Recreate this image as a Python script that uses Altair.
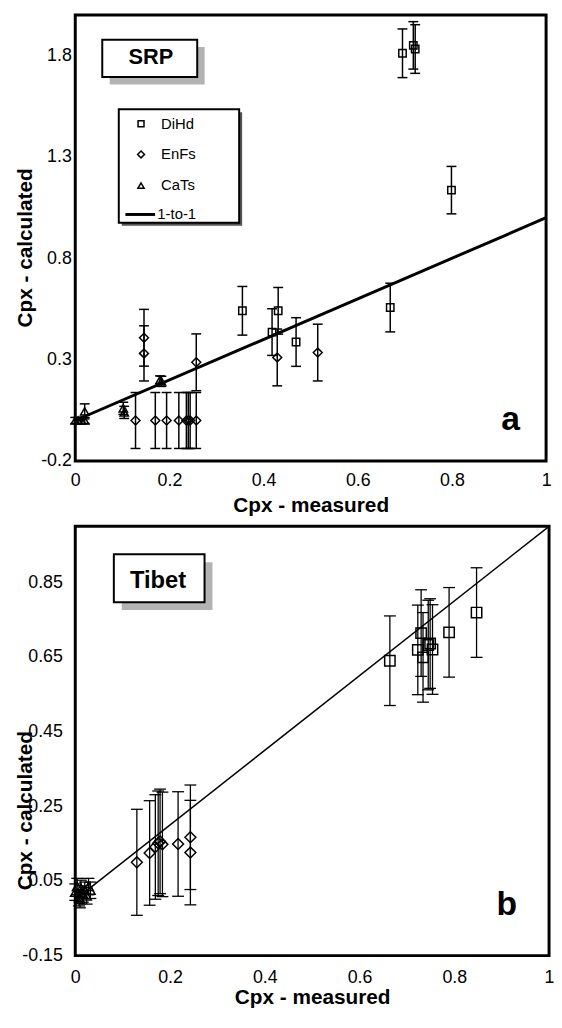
import altair as alt
import pandas as pd

FONT = "Liberation Sans"

# ---------------- data: panel a (SRP) ----------------
a_dihd_x = [0.695, 0.718, 0.722, 0.799, 0.355, 0.431, 0.418, 0.469, 0.669]
a_dihd_y = [1.811, 1.850, 1.832, 1.136, 0.541, 0.541, 0.436, 0.387, 0.557]
a_dihd_e = [0.120, 0.117, 0.120, 0.117, 0.120, 0.115, 0.115, 0.120, 0.120]

a_enfs_x = [0.146, 0.146, 0.257, 0.429, 0.515, 0.128, 0.170, 0.194, 0.220, 0.236, 0.240, 0.244, 0.257]
a_enfs_y = [0.408, 0.331, 0.287, 0.311, 0.335, 0.000, 0.000, 0.000, 0.000, 0.000, 0.000, 0.000, 0.000]
a_enfs_e = [0.140, 0.136, 0.140, 0.140, 0.140, 0.138, 0.138, 0.138, 0.138, 0.138, 0.138, 0.138, 0.138]

a_cats_x = [0.000, 0.006, 0.013, 0.020, 0.020, 0.102, 0.104, 0.183, 0.180]
a_cats_y = [0.000, 0.000, 0.000, 0.000, 0.045, 0.060, 0.040, 0.193, 0.200]
a_cats_e = [0.015, 0.015, 0.015, 0.015, 0.037, 0.030, 0.030, 0.025, 0.020]

# ---------------- data: panel b (Tibet) ----------------
b_dihd_x = [0.664, 0.723, 0.730, 0.734, 0.745, 0.749, 0.754, 0.789, 0.847]
b_dihd_y = [0.640, 0.669, 0.714, 0.649, 0.682, 0.686, 0.670, 0.716, 0.769]
b_dihd_e = [0.120, 0.120, 0.116, 0.120, 0.120, 0.120, 0.120, 0.120, 0.120]

b_enfs_x = [0.130, 0.157, 0.169, 0.175, 0.179, 0.184, 0.217, 0.243, 0.243]
b_enfs_y = [0.100, 0.125, 0.141, 0.151, 0.156, 0.148, 0.149, 0.167, 0.126]
b_enfs_e = [0.142, 0.140, 0.140, 0.140, 0.140, 0.140, 0.140, 0.140, 0.140]

b_cats_x = [0.000, 0.004, 0.008, 0.012, 0.016, 0.020, 0.024, 0.028, 0.032, 0.010]
b_cats_y = [0.020, 0.035, 0.005, 0.030, 0.015, 0.025, 0.010, 0.035, 0.025, 0.000]
b_cats_e = [0.022, 0.022, 0.022, 0.022, 0.022, 0.022, 0.022, 0.022, 0.022, 0.022]

one_x = [0.0, 1.0]
one_y = [0.0, 1.0]

x_ticks = [0, 0.2, 0.4, 0.6, 0.8, 1]
a_y_ticks = [-0.2, 0.3, 0.8, 1.3, 1.8]
b_y_ticks = [-0.15, 0.05, 0.25, 0.45, 0.65, 0.85]

legend_labels = ["DiHd", "EnFs", "CaTs", "1-to-1"]


def make_panel(p):
    ox = p["ox"]
    xs = alt.Scale(domain=[0, 1], nice=False, zero=False)
    ys = alt.Scale(domain=p["ydom"], nice=False, zero=False)
    xaxis = alt.Axis(values=x_ticks, labelExpr="format(datum.value, '~g')",
                     title="Cpx - measured", grid=False, domain=False, ticks=False,
                     labelFlush=False, labelFontSize=18, labelPadding=p["xlp"],
                     labelColor="black", labelFont=FONT,
                     titleFontSize=21, titleFontWeight="bold", titleFont=FONT,
                     titleColor="black", titleY=p["xty"], titleBaseline="alphabetic")
    yaxis = alt.Axis(values=p["yticks"],
                     labelExpr="replace(format(datum.value, '%s'), '\u2212', '-')" % p["yfmt"],
                     title="Cpx - calculated", grid=False, domain=False, ticks=False,
                     labelFlush=False, labelFontSize=18, labelPadding=p["ylp"],
                     labelColor="black", labelFont=FONT,
                     titleFontSize=21, titleFontWeight="bold", titleFont=FONT,
                     titleColor="black", titleX=p["ytx"], titleY=p["yty"],
                     titleAngle=270, titleBaseline="alphabetic", titleAlign="center")

    layers = []
    line_df = pd.DataFrame({"x": one_x, "y": one_y})
    layers.append(alt.Chart(line_df).mark_line(color="black", strokeWidth=p["lw"]).encode(
        x=alt.X("x:Q", scale=xs, axis=xaxis), y=alt.Y("y:Q", scale=ys, axis=yaxis)))

    for (x, y, e, shape, size) in p["series"]:
        df = pd.DataFrame({"x": x, "y": y,
                           "lo": [v - d for v, d in zip(y, e)],
                           "hi": [v + d for v, d in zip(y, e)]})
        base = alt.Chart(df)
        X = alt.X("x:Q", scale=xs, axis=xaxis)
        layers.append(base.mark_rule(color="black", strokeWidth=p["ew"]).encode(
            x=X, y=alt.Y("lo:Q", scale=ys, axis=yaxis), y2="hi:Q"))
        for f in ["lo", "hi"]:
            layers.append(base.mark_tick(orient="horizontal", size=p["cap"], thickness=p["ew"],
                                         color="black", opacity=1).encode(
                x=X, y=alt.Y(f + ":Q", scale=ys, axis=yaxis)))
        layers.append(base.mark_point(shape=shape, size=size, filled=False, color="black",
                                      strokeWidth=1.5, opacity=1).encode(
            x=X, y=alt.Y("y:Q", scale=ys, axis=yaxis)))

    one = pd.DataFrame({"d": [0]})
    bx = p["box"]
    sh = p["shadow"]
    layers.append(alt.Chart(one).mark_rect(fill="#b3b3b3").encode(
        x=alt.value(bx[0] + sh + ox), x2=alt.value(bx[2] + sh + ox),
        y=alt.value(bx[1] + sh), y2=alt.value(bx[3] + sh)))
    layers.append(alt.Chart(one).mark_rect(fill="white", stroke="black", strokeWidth=2).encode(
        x=alt.value(bx[0] + ox), x2=alt.value(bx[2] + ox), y=alt.value(bx[1]), y2=alt.value(bx[3])))
    layers.append(alt.Chart(one).mark_text(text=p["name"], font=FONT, fontSize=p["nfs"],
                                           fontWeight="bold", align="center",
                                           baseline="alphabetic", color="black").encode(
        x=alt.value(p["npos"][0] + ox), y=alt.value(p["npos"][1])))
    layers.append(alt.Chart(one).mark_text(text=p["letter"], font=FONT, fontSize=34,
                                           fontWeight="bold", align="center",
                                           baseline="alphabetic", color="black").encode(
        x=alt.value(p["lpos"][0] + ox), y=alt.value(p["lpos"][1])))

    if p.get("legend"):
        lb = (42 + ox, 95.3, 163.7 + ox, 210)
        layers.append(alt.Chart(one).mark_rect(fill="#555555").encode(
            x=alt.value(lb[0] + 3), x2=alt.value(lb[2] + 3),
            y=alt.value(lb[1] + 3), y2=alt.value(lb[3] + 3)))
        layers.append(alt.Chart(one).mark_rect(fill="white", stroke="black", strokeWidth=2).encode(
            x=alt.value(lb[0]), x2=alt.value(lb[2]), y=alt.value(lb[1]), y2=alt.value(lb[3])))
        sym = [("square", 36, 110), ("diamond", 49, 141), ("triangle-up", 40, 172.5)]
        for shape, size, yy in sym:
            layers.append(alt.Chart(one).mark_point(shape=shape, size=size, filled=False,
                                                    color="black", strokeWidth=1.5, opacity=1).encode(
                x=alt.value(64.5 + ox), y=alt.value(yy)))
        layers.append(alt.Chart(one).mark_rule(color="black", strokeWidth=3).encode(
            x=alt.value(48.7 + ox), x2=alt.value(78.7 + ox), y=alt.value(201.7)))
        tpos = [(84.7, 115.3), (84.7, 146), (84.7, 176.7), (81, 206.5)]
        for lab, (tx, ty) in zip(legend_labels, tpos):
            layers.append(alt.Chart(one).mark_text(text=lab, font=FONT, fontSize=15,
                                                   align="left", baseline="alphabetic",
                                                   color="black").encode(
                x=alt.value(tx + ox), y=alt.value(ty)))

    return alt.layer(*layers).properties(width=p["w"], height=p["h"])


panel_a = make_panel(dict(
    ydom=[-0.2, 2.0], yticks=a_y_ticks, yfmt=".1f", xlp=11, xty=51, ylp=4,
    ytx=-44.3, yty=235, lw=3, ew=1.5, cap=10, w=476, h=451, ox=2,
    series=[(a_dihd_x, a_dihd_y, a_dihd_e, "square", 56),
            (a_enfs_x, a_enfs_y, a_enfs_e, "diamond", 81),
            (a_cats_x, a_cats_y, a_cats_e, "triangle-up", 70)],
    box=(25.3, 25, 121.3, 62.7), shadow=7.5, name="SRP", nfs=22, npos=(74.5, 50),
    letter="a", lpos=(438, 420), legend=True))

panel_b = make_panel(dict(
    ydom=[-0.15, 1.0], yticks=b_y_ticks, yfmt=".2f", xlp=13, xty=48.5, ylp=13,
    ytx=-44.3, yty=287, lw=1.5, ew=1.3, cap=12, w=479, h=434, ox=-1,
    series=[(b_dihd_x, b_dihd_y, b_dihd_e, "square", 110),
            (b_enfs_x, b_enfs_y, b_enfs_e, "diamond", 121),
            (b_cats_x, b_cats_y, b_cats_e, "triangle-up", 90)],
    box=(40, 28.3, 131.7, 76.7), shadow=8, name="Tibet", nfs=24, npos=(84.7, 62.3),
    letter="b", lpos=(437.3, 393), legend=False))

# fixed page box: 552 x 1006 svg placed at the 8px page margin
PAD_LEFT, PAD_TOP = 68, 1.5
SVG_W, SVG_H = 552, 1006
chart = alt.vconcat(panel_a, panel_b, spacing=66, bounds="flush").properties(
    autosize=alt.AutoSizeParams(type="none"),
    padding={"left": PAD_LEFT, "top": PAD_TOP,
             "right": SVG_W - PAD_LEFT, "bottom": SVG_H - PAD_TOP}
).configure(font=FONT).configure_view(stroke="black", strokeWidth=3)

chart.save("out.html", embed_options={"renderer": "svg", "actions": False})
